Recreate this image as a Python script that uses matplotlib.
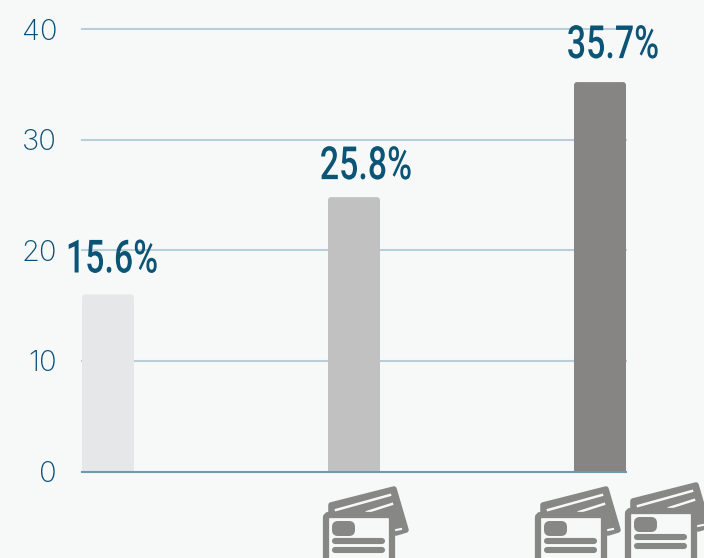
import matplotlib
matplotlib.use("Agg")
import matplotlib.pyplot as plt
from matplotlib.patches import FancyBboxPatch, Polygon
from matplotlib.patheffects import AbstractPathEffect
from matplotlib.transforms import Affine2D, IdentityTransform

categories = ["A", "B", "C"]
bar_heights = [16.0, 24.8, 35.2]
bar_labels = ["15.6%", "25.8%", "35.7%"]
bar_colors = ["#e6e7e8", "#c1c1c1", "#868583"]
y_ticks = [0, 10, 20, 30, 40]
label_offsets_px = [(4, 35), (12, 31), (13, 37)]

BG = "#f7f9f9"
INK = "#0a4f73"
GRID = "#b9ced9"
BASE = "#6e9ab0"
ICON = "#878786"

W, H = 704, 558
fig = plt.figure(figsize=(W / 100, H / 100), dpi=100, facecolor=BG)
ax = fig.add_axes([82 / W, (H - 471.5) / H, 544 / W, 442.5 / H], facecolor=BG)


class Condense(AbstractPathEffect):
    """Narrow a text horizontally about its centre (no condensed font is installed)."""

    def __init__(self, cx, sx):
        super().__init__()
        self.cx, self.sx = cx, sx

    def draw_path(self, renderer, gc, tpath, affine, rgbFace=None):
        a = affine + Affine2D().translate(-self.cx, 0).scale(self.sx, 1).translate(self.cx, 0)
        renderer.draw_path(gc, tpath, a, rgbFace)


bw = 52 / 246
x = list(range(len(categories)))
ax.set_xlim(-bw / 2, 2 + bw / 2)
ax.set_ylim(0, 40)

for s in ax.spines.values():
    s.set_visible(False)
ax.set_xticks([])
ax.set_yticks(y_ticks)
ax.tick_params(axis="y", length=0, pad=18, labelsize=21, labelcolor=INK)
for t in ax.get_yticklabels():
    t.set_family(["Inter", "Lato", "DejaVu Sans"])
    t.set_fontweight("light")

for v in y_ticks:
    ax.axhline(v, color=BASE if v == 0 else GRID, lw=1.5, zorder=1 if v else 4, clip_on=False)

# Bars (rounded corners, positions derived from the data scale)
for xi, h, c in zip(x, bar_heights, bar_colors):
    (x0, y0), (x1, y1) = ax.transData.transform([(xi - bw / 2, 0), (xi + bw / 2, h)])
    r = 3
    p = FancyBboxPatch((x0 + r, y0 - 6), x1 - x0 - 2 * r, y1 - y0 + 6 - r,
                       boxstyle=f"round,pad={r},rounding_size={r}", fc=c, ec="none",
                       transform=IdentityTransform(), zorder=3)
    ax.add_patch(p)
    p.set_clip_box(ax.bbox)

renderer = fig.canvas.get_renderer()
for xi, h, lab, (dx, dy) in zip(x, bar_heights, bar_labels, label_offsets_px):
    t = ax.annotate(lab, xy=(xi, h), xytext=(dx * 0.72, dy * 0.72), textcoords="offset points",
                    ha="center", va="center", fontsize=33, color="#0b5475",
                    family=["Roboto", "DejaVu Sans"], fontweight="medium",
                    zorder=6, annotation_clip=False)
    e = t.get_window_extent(renderer)
    t.set_path_effects([Condense((e.x0 + e.x1) / 2, 0.74)])

# Card icons drawn in pixel space (decoration under the bars)
ov = fig.add_axes([0, 0, 1, 1], facecolor="none")
ov.set_xlim(0, W)
ov.set_ylim(H, 0)
ov.axis("off")


def card_icon(ox, oy, z):
    ov.add_patch(Polygon([(331 + ox, 505 + oy), (394 + ox, 489 + oy), (406 + ox, 530 + oy),
                          (396 + ox, 533 + oy), (331 + ox, 514 + oy)],
                         closed=True, fc=ICON, ec=ICON, lw=4, joinstyle="round", zorder=z))
    ov.plot([336 + ox, 390 + ox], [510 + oy, 495 + oy], color=BG, lw=1.8, zorder=z + 0.1)
    ov.plot([367 + ox, 392 + ox], [512 + oy, 504 + oy], color=BG, lw=1.8, zorder=z + 0.1)
    ov.plot([396 + ox, 401 + ox], [530 + oy, 529 + oy], color=BG, lw=1.5, zorder=z + 0.1)
    ov.add_patch(FancyBboxPatch((326 + ox, 515 + oy), 66, 60, boxstyle="round,pad=0,rounding_size=3",
                                fc=BG, ec=ICON, lw=4.5, zorder=z + 0.2))
    ov.add_patch(FancyBboxPatch((334 + ox, 523 + oy), 19, 11, boxstyle="round,pad=2,rounding_size=6",
                                fc=ICON, ec="none", zorder=z + 0.3))
    for ly in (541, 549.5):
        ov.plot([335 + ox, 382 + ox], [ly + oy, ly + oy], color=ICON, lw=4.4,
                solid_capstyle="round", zorder=z + 0.3)


card_icon(0, 0, 10)
card_icon(212, 0, 11)
card_icon(302, -4, 12)

fig.savefig("out.png", dpi=100, facecolor=BG)
